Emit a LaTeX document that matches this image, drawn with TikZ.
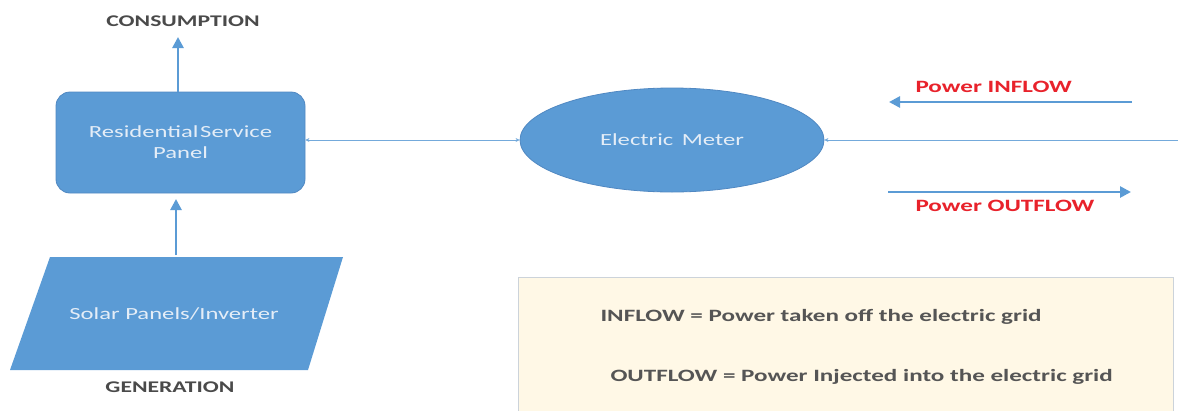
\documentclass[tikz,border=0pt]{standalone}
\usepackage{fontspec}
\setmainfont[FakeStretch=1.45]{Carlito}
\usetikzlibrary{arrows.meta,shapes.geometric}
\definecolor{boxblue}{HTML}{5B9BD5}
\definecolor{edgeblue}{HTML}{5088C2}
\definecolor{lighttxt}{HTML}{E4EDF7}
\definecolor{darktxt}{HTML}{4A4A4A}
\definecolor{legtxt}{HTML}{555555}
\definecolor{redtxt}{HTML}{E8222B}
\definecolor{cream}{HTML}{FFF8E6}
\definecolor{legedge}{HTML}{CCD3DA}
\tikzset{
  shapebox/.style={fill=boxblue, draw=edgeblue, line width=0.8pt, text=lighttxt, font=\fontsize{17}{20}\selectfont, align=center},
  caplabel/.style={text=darktxt, font=\bfseries\fontsize{16.3}{19}\selectfont},
  redlabel/.style={text=redtxt, font=\bfseries\fontsize{17.3}{20}\selectfont},
  legline/.style={text=legtxt, font=\bfseries\fontsize{17.3}{20}\selectfont, anchor=west},
  bigarrow/.style={draw=boxblue, line width=2.6pt, -{Triangle[length=11pt,width=11pt]}},
  thinarrow/.style={draw=boxblue!85!white, line width=0.9pt, {Stealth[length=4pt,width=4pt]}-{Stealth[length=4pt,width=4pt]}},
  thinone/.style={draw=boxblue!85!white, line width=0.9pt, {Stealth[length=4pt,width=4pt]}-}
}
\begin{document}
\begin{tikzpicture}[x=1pt,y=-1pt]
\useasboundingbox (0,0) rectangle (1178,410);
% legend box
\node[draw=legedge, fill=cream, line width=1pt, minimum width=655pt, minimum height=150pt, anchor=north west, inner sep=0pt] (legend) at (518,277) {};
\node[legline] (l1) at (597,317) {INFLOW = Power taken off the electric grid};
\node[legline] (l2) at (607,377) {OUTFLOW = Power Injected into the electric grid};
% panel
\node[shapebox, rounded corners=14pt, minimum width=249pt, minimum height=101pt, inner sep=0pt] (panel) at (180.5,142.5) {Residential\hspace{0.1em}Service\\[1pt]Panel};
% consumption
\node[caplabel] (cons) at (183,21) {CONSUMPTION};
\draw[bigarrow] (panel.north -| 178,0) -- (178,37) coordinate (constip);
% solar parallelogram
\coordinate (p1) at (50,257);
\coordinate (p2) at (343,257);
\coordinate (p3) at (308,370);
\coordinate (p4) at (10,370);
\fill[boxblue] (p1) -- (p2) -- (p3) -- (p4) -- cycle;
\node[text=lighttxt, font=\fontsize{17}{20}\selectfont] (solar) at (174,314) {Solar Panels/Inverter};
\coordinate (solartop) at (176,255);
\draw[bigarrow] (solartop) -- (176,199);
\node[caplabel] (gen) at (170,387) {GENERATION};
% meter
\node[shapebox, ellipse, minimum width=304pt, minimum height=104pt, inner sep=0pt] (meter) at (672,140) {Electric\hspace{0.5em}Meter};
\draw[thinarrow] (panel.east |- 0,140) -- (meter.west);
\coordinate (gridend) at (1178,140);
\draw[thinone] (meter.east) -- (gridend);
% flows
\coordinate (inA) at (1132,102);
\coordinate (inB) at (889,102);
\draw[bigarrow] (inA) -- (inB);
\node[redlabel, anchor=west] (inlab) at (912,87) {Power INFLOW};
\coordinate (outA) at (888,192);
\coordinate (outB) at (1131,192);
\draw[bigarrow] (outA) -- (outB);
\node[redlabel, anchor=west] (outlab) at (912,206) {Power OUTFLOW};
\end{tikzpicture}
\end{document}
